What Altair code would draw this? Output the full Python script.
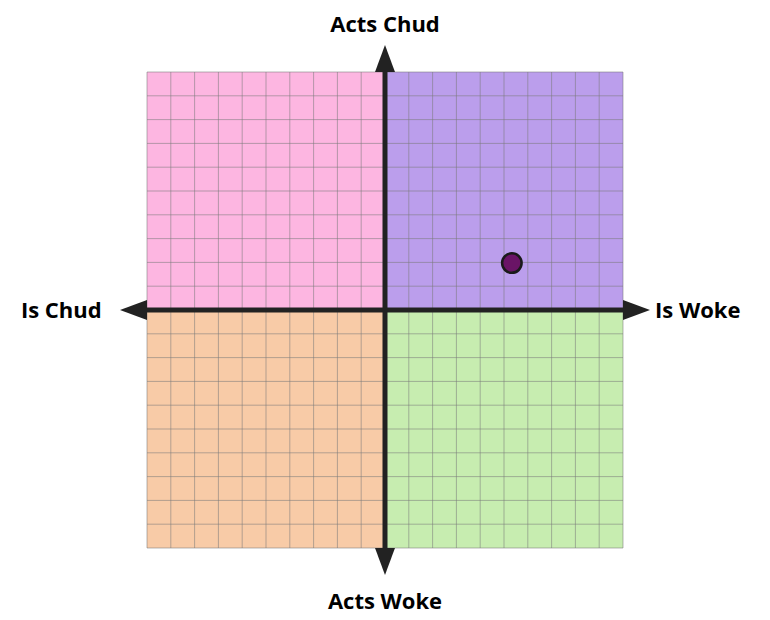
import altair as alt
import pandas as pd

# ---- data ----
LIM = 10
quad_x1 = [-10, 0, -10, 0]
quad_x2 = [0, 10, 0, 10]
quad_y1 = [0, 0, -10, -10]
quad_y2 = [10, 10, 0, 0]
quad_color = ["#FDB6E1", "#BB9EEC", "#F8CBA7", "#C7EDB0"]
grid_vals = list(range(-10, 11))
point_x = [5.33]
point_y = [1.97]
label_top = "Acts Chud"
label_bottom = "Acts Woke"
label_left = "Is Chud"
label_right = "Is Woke"

# ---- layout helpers ----
W = 476
UNIT = W / (2 * LIM)


def off(px):
    return px / UNIT


xs = alt.Scale(domain=[-LIM, LIM], nice=False, zero=False)
ys = alt.Scale(domain=[-LIM, LIM], nice=False, zero=False)

quads = pd.DataFrame({"x": quad_x1, "x2": quad_x2, "y": quad_y1, "y2": quad_y2, "c": quad_color})
rects = alt.Chart(quads).mark_rect(strokeWidth=0).encode(
    x=alt.X("x:Q", scale=xs, axis=None),
    x2="x2:Q",
    y=alt.Y("y:Q", scale=ys, axis=None),
    y2="y2:Q",
    color=alt.Color("c:N", scale=None),
)

gv = pd.DataFrame({"x": grid_vals, "y": [-LIM] * len(grid_vals), "y2": [LIM] * len(grid_vals)})
gh = pd.DataFrame({"y": grid_vals, "x": [-LIM] * len(grid_vals), "x2": [LIM] * len(grid_vals)})
grid_style = dict(color="#7a7a7a", strokeWidth=1, opacity=0.55)
grid_v = alt.Chart(gv).mark_rule(**grid_style).encode(
    x=alt.X("x:Q", scale=xs, axis=None), y=alt.Y("y:Q", scale=ys, axis=None), y2="y2:Q"
)
grid_h = alt.Chart(gh).mark_rule(**grid_style).encode(
    y=alt.Y("y:Q", scale=ys, axis=None), x=alt.X("x:Q", scale=xs, axis=None), x2="x2:Q"
)

axv = alt.Chart(pd.DataFrame({"x": [0], "y": [-LIM], "y2": [LIM]})).mark_rule(
    color="#222222", strokeWidth=5
).encode(x=alt.X("x:Q", scale=xs, axis=None), y=alt.Y("y:Q", scale=ys, axis=None), y2="y2:Q")
axh = alt.Chart(pd.DataFrame({"y": [0], "x": [-LIM], "x2": [LIM]})).mark_rule(
    color="#222222", strokeWidth=5
).encode(y=alt.Y("y:Q", scale=ys, axis=None), x=alt.X("x:Q", scale=xs, axis=None), x2="x2:Q")

ah = off(13.5)
arrows = pd.DataFrame({
    "x": [0, 0, -LIM - ah, LIM + ah],
    "y": [LIM + ah, -LIM - ah, 0, 0],
    "s": [
        "M-0.74,1L0,-1L0.74,1Z",
        "M-0.74,-1L0,1L0.74,-1Z",
        "M1,-0.74L-1,0L1,0.74Z",
        "M-1,-0.74L1,0L-1,0.74Z",
    ],
})
arrow_layer = alt.Chart(arrows).mark_point(filled=True, fill="#222222", strokeWidth=0, size=729, opacity=1).encode(
    x=alt.X("x:Q", scale=xs, axis=None),
    y=alt.Y("y:Q", scale=ys, axis=None),
    shape=alt.Shape("s:N", scale=None),
)

pt = alt.Chart(pd.DataFrame({"x": point_x, "y": point_y})).mark_point(
    filled=True, fill="#6A1466", stroke="#1a1a1a", strokeWidth=2.5, size=380, opacity=1
).encode(x=alt.X("x:Q", scale=xs, axis=None), y=alt.Y("y:Q", scale=ys, axis=None))

font = dict(font="Open Sans", fontSize=22, fontWeight="bold", color="#000000", baseline="alphabetic")
tc = alt.Chart(pd.DataFrame({
    "x": [0, 0],
    "y": [LIM + off(40.3), -LIM - off(61.3)],
    "t": [label_top, label_bottom],
})).mark_text(align="center", **font).encode(
    x=alt.X("x:Q", scale=xs, axis=None), y=alt.Y("y:Q", scale=ys, axis=None), text="t:N"
)
tl = alt.Chart(pd.DataFrame({"x": [-LIM - off(45.3)], "y": [-off(7.5)], "t": [label_left]})).mark_text(
    align="right", **font
).encode(x=alt.X("x:Q", scale=xs, axis=None), y=alt.Y("y:Q", scale=ys, axis=None), text="t:N")
tr = alt.Chart(pd.DataFrame({"x": [LIM + off(32)], "y": [-off(7.5)], "t": [label_right]})).mark_text(
    align="left", **font
).encode(x=alt.X("x:Q", scale=xs, axis=None), y=alt.Y("y:Q", scale=ys, axis=None), text="t:N")

chart = alt.layer(rects, grid_v, grid_h, axv, axh, arrow_layer, pt, tc, tl, tr).properties(
    width=W,
    height=W,
    padding={"left": 139, "top": 64, "right": 139, "bottom": 64},
    autosize=alt.AutoSizeParams(type="none"),
    background="white",
).configure_view(stroke=None)

chart.save("out.html", embed_options={"renderer": "svg", "actions": False})
